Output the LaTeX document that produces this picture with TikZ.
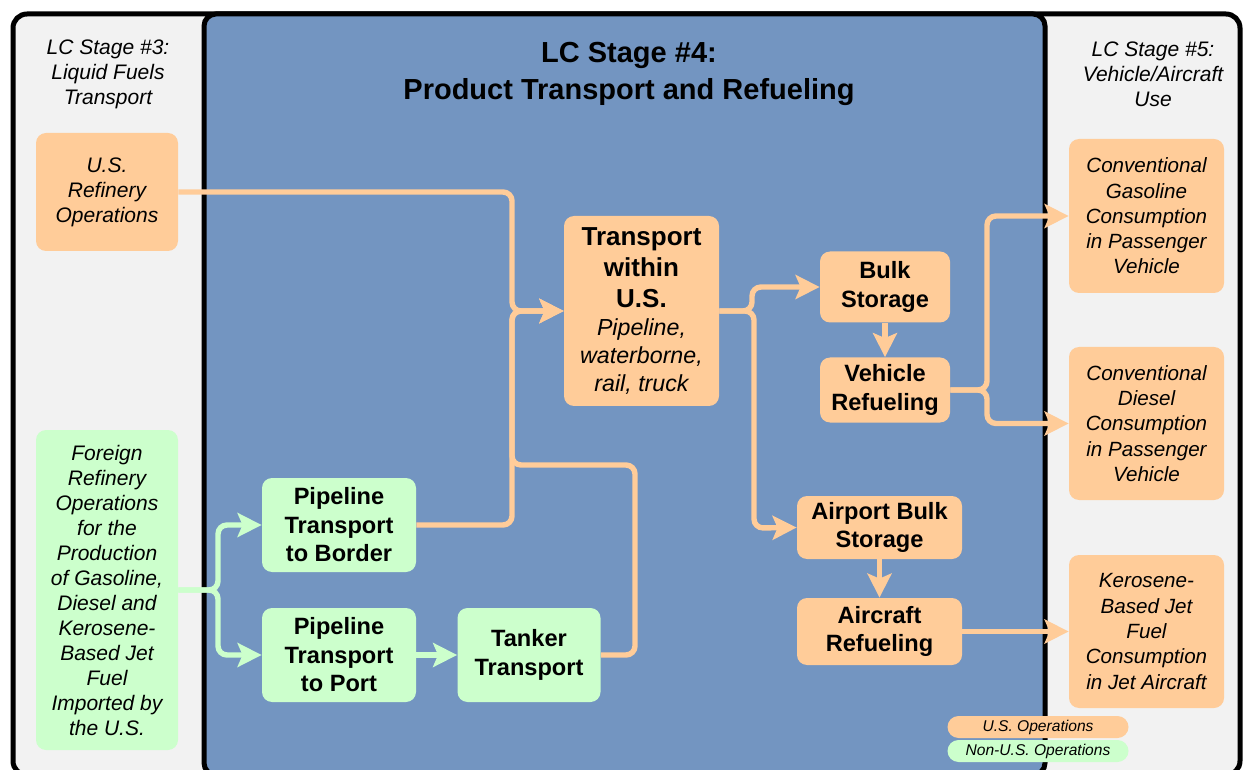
\documentclass[tikz,border=0pt]{standalone}
\usepackage{fontspec}
\setmainfont{Liberation Sans}
\usepackage{tikz}
\usetikzlibrary{arrows.meta,positioning,backgrounds,calc}

\definecolor{usop}{HTML}{FFCC99}
\definecolor{nonus}{HTML}{CCFFCC}
\definecolor{stagefour}{HTML}{7395C1}
\definecolor{stageside}{HTML}{F2F2F2}

\begin{document}
\begin{tikzpicture}[x=0.5pt,y=-0.5pt,
    box/.style={rectangle,rounded corners=5pt,inner sep=0pt,align=center},
    usbox/.style={box,fill=usop},
    nonusbox/.style={box,fill=nonus},
    proc/.style={font=\bfseries\fontsize{11.8}{14.25}\selectfont},
    src/.style={font=\itshape\fontsize{10.5}{12.5}\selectfont},
    use/.style={font=\itshape\fontsize{10.3}{12.65}\selectfont},
    flow/.style={draw=usop,line width=2.7pt,rounded corners=4.5pt,-{Stealth[length=12pt,width=12pt,inset=2.5pt]}},
    gflow/.style={flow,draw=nonus},
    legend/.style={rectangle,rounded corners=5.5pt,minimum width=90.5pt,minimum height=11pt,inner sep=0pt,font=\itshape\fontsize{7.8}{8}\selectfont}]

    \useasboundingbox (0,0) rectangle (1243,770);
    \fill[white] (0,0) rectangle (1243,770);

    \begin{scope}
        \clip (0,0) rectangle (1243,770);
        \draw[line width=2.5pt,fill=stageside,rounded corners=7pt] (13,14) rectangle (1240,775);
        \draw[line width=2.5pt,fill=stagefour,rounded corners=6pt] (204,14) rectangle (1045,775);
    \end{scope}

    \node[src,align=center](st3) at (108,74) {LC Stage \#3:\\Liquid Fuels\\Transport};
    \node[align=center,font=\bfseries\fontsize{14.5}{18.5}\selectfont](st4) at (629,74) {LC Stage \#4:\\Product Transport and Refueling};
    \node[src,align=center](st5) at (1153,74) {LC Stage \#5:\\Vehicle/Aircraft\\Use};

    \node[usbox,src,minimum width=71pt,minimum height=59pt](usref) at (107,192) {U.S.\\Refinery\\Operations};
    \node[nonusbox,src,minimum width=71pt,minimum height=160pt](forref) at (107,590) {Foreign\\Refinery\\Operations\\for the\\Production\\of Gasoline,\\Diesel and\\Kerosene-\\Based Jet\\Fuel\\Imported by\\the U.S.};

    \node[nonusbox,proc,minimum width=77pt,minimum height=47pt](pipeb) at (339,525) {Pipeline\\Transport\\to Border};
    \node[nonusbox,proc,minimum width=77pt,minimum height=47pt](pipep) at (339,655) {Pipeline\\Transport\\to Port};
    \node[nonusbox,proc,minimum width=71.5pt,minimum height=47pt](tank) at (529,655) {Tanker\\Transport};

    \node[usbox,minimum width=77.5pt,minimum height=95pt,font=\fontsize{11.6}{14}\selectfont](trans) at (641.5,311)
        {{\bfseries\fontsize{13}{15.5}\selectfont Transport}\\[1.5pt]{\bfseries\fontsize{13}{15.5}\selectfont within}\\[1.5pt]{\bfseries\fontsize{13}{15.5}\selectfont U.S.}\\{\itshape Pipeline,}\\{\itshape waterborne,}\\{\itshape rail, truck}};

    \node[usbox,proc,minimum width=65pt,minimum height=35.5pt](bulk) at (885,287) {Bulk\\Storage};
    \node[usbox,proc,minimum width=65pt,minimum height=32.5pt](vref) at (885,390) {Vehicle\\Refueling};
    \node[usbox,proc,minimum width=82.5pt,minimum height=31.5pt](abulk) at (879.5,527.5) {Airport Bulk\\Storage};
    \node[usbox,proc,minimum width=82.5pt,minimum height=33.5pt](aref) at (879.5,631.5) {Aircraft\\Refueling};

    \node[usbox,use,minimum width=77.5pt,minimum height=77pt](gas) at (1146.5,216) {Conventional\\Gasoline\\Consumption\\in Passenger\\Vehicle};
    \node[usbox,use,minimum width=77.5pt,minimum height=76.5pt](dsl) at (1146.5,423.5) {Conventional\\Diesel\\Consumption\\in Passenger\\Vehicle};
    \node[usbox,use,minimum width=77.5pt,minimum height=76.5pt](jet) at (1146.5,631.5) {Kerosene-\\Based Jet\\Fuel\\Consumption\\in Jet Aircraft};

    \coordinate (ji) at (512,311);
    \coordinate (jt) at (635,465);
    \coordinate (ja) at (754,528);
    \coordinate (jg) at (987,216);
    \coordinate (jd) at (987,423.5);
    \coordinate (fb) at (218,525);
    \coordinate (fp) at (218,655);

    \draw[flow] (usref.east) -| (ji) -- (trans.west);
    \draw[flow] (pipeb.east) -| (ji) -- (trans.west);
    \draw[flow] (tank.east) -| (jt) -| (ji) -- (trans.west);
    \draw[flow] (trans.east) -- (752,311) |- (bulk.west);
    \draw[flow] (trans.east) -| (ja) -- (abulk.west);
    \draw[flow] (bulk.south) -- (vref.north);
    \draw[flow] (vref.east) -| (jg) -- (gas.west);
    \draw[flow] (vref.east) -| (jd) -- (dsl.west);
    \draw[flow] (abulk.south) -- (aref.north);
    \draw[flow] (aref.east) -- (jet.west);

    \draw[gflow] (forref.east) -| (fb) -- (pipeb.west);
    \draw[gflow] (forref.east) -| (fp) -- (pipep.west);
    \draw[gflow] (pipep.east) -- (tank.west);

    \node[legend,fill=usop](legus) at (1038,727) {U.S. Operations};
    \node[legend,fill=nonus](legnon) at (1038,751) {Non-U.S. Operations};

\end{tikzpicture}
\end{document}
